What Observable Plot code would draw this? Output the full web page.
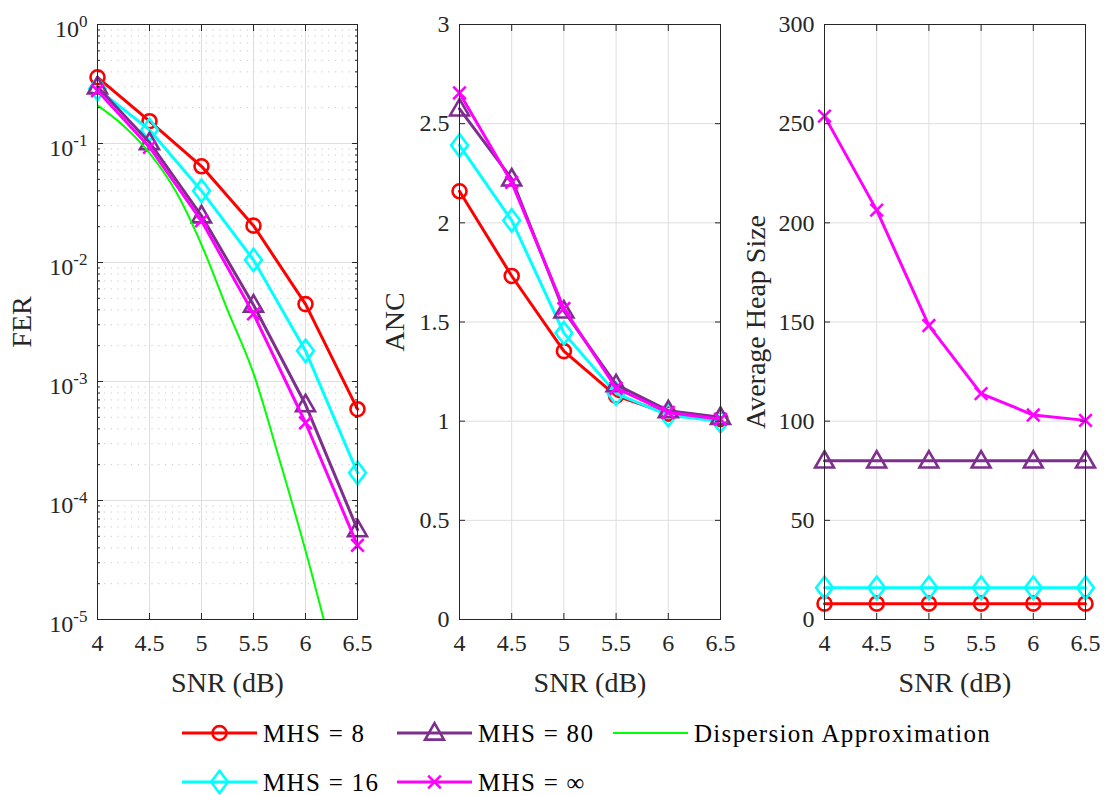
<!DOCTYPE html>
<html><head><meta charset="utf-8">
<script src="https://cdn.jsdelivr.net/npm/d3@7"></script>
<script src="https://cdn.jsdelivr.net/npm/@observablehq/plot@0.6"></script>
<style>
html,body{margin:0;padding:0;background:#fff;}
body{width:1107px;height:796px;position:relative;overflow:hidden;}
.panel{position:absolute;top:0;}
#legend{position:absolute;left:0;top:700px;}
svg text{font-family:"Liberation Serif","Times New Roman",Tinos,"DejaVu Serif",serif !important;font-variant:normal !important;}
g[aria-label="x-axis label"] text, g[aria-label="y-axis label"] text{font-size:28px;}
</style></head><body>
<div id="p1" class="panel" style="left:0px"></div>
<div id="p2" class="panel" style="left:370px"></div>
<div id="p3" class="panel" style="left:740px"></div>
<div id="legend"></div>
<script>
// ---------------- data ----------------
const snr = [4, 4.5, 5, 5.5, 6, 6.5];
const xTicks = [4, 4.5, 5, 5.5, 6, 6.5];
const xTickLabels = ["4", "4.5", "5", "5.5", "6", "6.5"];

const seriesNames = ["MHS = 8", "MHS = 16", "MHS = 80", "MHS = \u221E"];
const seriesColors = ["#ff0000", "#00ffff", "#7e2f8e", "#ff00ff"];
const seriesMarkers = ["circle", "diamond", "triangle", "cross"];

const ferMHS8   = [0.36, 0.154, 0.0643, 0.0204, 0.00447, 0.000585];
const ferMHS16  = [0.288, 0.13, 0.040, 0.0105, 0.00181, 0.000171];
const ferMHS80  = [0.30, 0.102, 0.0247, 0.0044, 0.00064, 0.000057];
const ferMHSinf = [0.278, 0.093, 0.0224, 0.0037, 0.00045, 0.000042];

const dispName = "Dispersion Approximation";
const dispColor = "#00ff00";
const dispSNR = [4, 4.25, 4.5, 4.75, 5, 5.25, 5.5, 5.75, 6, 6.25];
const dispFER = [0.209, 0.141, 0.083, 0.040, 0.0141, 0.0040, 0.00117, 0.00022, 0.000038, 0.0000056];

const ancMHS8   = [2.159, 1.732, 1.353, 1.128, 1.038, 1.01];
const ancMHS16  = [2.391, 2.012, 1.444, 1.139, 1.03, 1.0];
const ancMHS80  = [2.575, 2.222, 1.556, 1.184, 1.053, 1.02];
const ancMHSinf = [2.655, 2.204, 1.568, 1.166, 1.044, 1.01];

const heapMHS8   = [8, 8, 8, 8, 8, 8];
const heapMHS16  = [16, 16, 16, 16, 16, 16];
const heapMHS80  = [80, 80, 80, 80, 80, 80];
const heapMHSinf = [253.8, 206.4, 148.2, 113.9, 103.1, 100.4];

const ferTicks = [1e-5, 1e-4, 1e-3, 1e-2, 1e-1, 1];
const ferTickLabels = ["10^-5", "10^-4", "10^-3", "10^-2", "10^-1", "10^0"];
const ancTicks = [0, 0.5, 1, 1.5, 2, 2.5, 3];
const ancTickLabels = ["0", "0.5", "1", "1.5", "2", "2.5", "3"];
const heapTicks = [0, 50, 100, 150, 200, 250, 300];
const heapTickLabels = ["0", "50", "100", "150", "200", "250", "300"];

// ---------------- symbols ----------------
function sym(fn) { return {draw(ctx, size) { fn(ctx, Math.sqrt(size / Math.PI)); }}; }
const symbols = {
  circle: sym((c, r) => { c.moveTo(r, 0); c.arc(0, 0, r, 0, 2 * Math.PI); c.closePath(); }),
  triangle: sym((c, r) => { c.moveTo(0, -1.4 * r); c.lineTo(1.35 * r, 0.95 * r); c.lineTo(-1.35 * r, 0.95 * r); c.closePath(); }),
  diamond: sym((c, r) => { c.moveTo(0, -1.6 * r); c.lineTo(1.2 * r, 0); c.lineTo(0, 1.6 * r); c.lineTo(-1.2 * r, 0); c.closePath(); }),
  cross: sym((c, r) => { const a = 0.9 * r; c.moveTo(-a, -a); c.lineTo(a, a); c.moveTo(a, -a); c.lineTo(-a, a); })
};
const MR = 7;
const FONT = "'Liberation Serif', 'Times New Roman', Tinos, 'DejaVu Serif', serif";

function rows(xs, ys) { return xs.map((x, i) => ({x, y: ys[i]})); }
const fmt = (ticks, labels) => d => labels[ticks.indexOf(d)];

const GRID = "#dedede", AX = "#262626";

function panel({el, width, marginLeft, marginRight, y, yTicks, yTickLabels, minor, yLabel, yLabelOffset, yTextDy, sets, before = [], after = []}) {
  const marks = [];
  if (minor) marks.push(Plot.ruleY(minor, {stroke: "#c6c6c6", strokeDasharray: "1.2,5.6", strokeWidth: 1}));
  marks.push(Plot.gridX(xTicks, {stroke: GRID, strokeOpacity: 1, strokeWidth: 1}));
  marks.push(Plot.gridY(yTicks, {stroke: GRID, strokeOpacity: 1, strokeWidth: 1}));
  marks.push(...before);
  sets.forEach((vals, i) => {
    const d = rows(snr, vals);
    marks.push(Plot.line(d, {x: "x", y: "y", stroke: seriesColors[i], strokeWidth: 3}));
    marks.push(Plot.dot(d, {x: "x", y: "y", stroke: seriesColors[i], fill: "none", strokeWidth: 2.6, r: MR, symbol: symbols[seriesMarkers[i]]}));
  });
  marks.push(...after);
  marks.push(Plot.frame({stroke: AX, strokeWidth: 1}));
  marks.push(Plot.axisX(xTicks, {anchor: "bottom", tickSize: 0, tickPadding: 14, fontVariant: "normal", tickFormat: fmt(xTicks, xTickLabels), label: "SNR (dB)", labelAnchor: "center", labelOffset: 72, labelArrow: "none"}));
  marks.push(Plot.axisY(yTicks, {anchor: "left", tickSize: 0, tickPadding: 10, dy: yTextDy, fontVariant: "normal", tickFormat: fmt(yTicks, yTickLabels), label: yLabel, labelAnchor: "center", labelOffset: yLabelOffset, labelArrow: "none"}));
  const blank = () => "";
  marks.push(Plot.axisX(xTicks, {anchor: "bottom", tickSize: -6, tickFormat: blank, label: null, stroke: AX}));
  marks.push(Plot.axisX(xTicks, {anchor: "top", tickSize: -6, tickFormat: blank, label: null, stroke: AX}));
  marks.push(Plot.axisY(yTicks, {anchor: "left", tickSize: -6, tickFormat: blank, label: null, stroke: AX}));
  marks.push(Plot.axisY(yTicks, {anchor: "right", tickSize: -6, tickFormat: blank, label: null, stroke: AX}));
  if (minor) {
    marks.push(Plot.axisY(minor, {anchor: "left", tickSize: -3, tickFormat: blank, label: null, stroke: AX}));
    marks.push(Plot.axisY(minor, {anchor: "right", tickSize: -3, tickFormat: blank, label: null, stroke: AX}));
  }
  const svg = Plot.plot({
    width, height: 700, marginTop: 24, marginBottom: 81, marginLeft, marginRight,
    x: {domain: [4, 6.5]},
    y,
    style: {fontFamily: FONT, fontSize: "24px", color: AX, background: "transparent", overflow: "visible"},
    marks
  });
  document.getElementById(el).appendChild(svg);
  return svg;
}

// FER
const ferMinor = ferTicks.slice(0, -1).flatMap(d => [2, 3, 4, 5, 6, 7, 8, 9].map(m => d * m));
const svg1 = panel({
  el: "p1", width: 370, marginLeft: 97, marginRight: 13,
  y: {type: "log", domain: [1e-5, 1]},
  yTicks: ferTicks, yTickLabels: ferTickLabels, minor: ferMinor,
  yLabel: "FER", yLabelOffset: 86, yTextDy: 5,
  sets: [ferMHS8, ferMHS16, ferMHS80, ferMHSinf],
  after: [Plot.line(rows(dispSNR, dispFER), {x: "x", y: "y", stroke: dispColor, strokeWidth: 2, curve: "monotone-x", clip: true})]
});
d3.select(svg1).selectAll('g[aria-label="y-axis tick label"] text').each(function() {
  const t = this.textContent;
  const parts = t.split("^");
  if (parts.length < 2) return;
  const s = d3.select(this);
  s.selectAll("*").remove();
  s.text(null);
  s.append("tspan").text(parts[0]);
  s.append("tspan").attr("dy", "-10").attr("font-size", "17px").text(parts[1]);
});

// ANC
panel({
  el: "p2", width: 370, marginLeft: 89, marginRight: 20,
  y: {domain: [0, 3]},
  yTicks: ancTicks, yTickLabels: ancTickLabels,
  yLabel: "ANC", yLabelOffset: 75, yTextDy: 0,
  sets: [ancMHS8, ancMHS16, ancMHS80, ancMHSinf]
});

// Heap
panel({
  el: "p3", width: 367, marginLeft: 84, marginRight: 22,
  y: {domain: [0, 300]},
  yTicks: heapTicks, yTickLabels: heapTickLabels,
  yLabel: "Average Heap Size", yLabelOffset: 79, yTextDy: 0,
  sets: [heapMHS8, heapMHS16, heapMHS80, heapMHSinf]
});

// ---------------- legend ----------------
const legendItems = [
  {name: seriesNames[0], color: seriesColors[0], marker: seriesMarkers[0], col: 0, row: 0, w: 3},
  {name: seriesNames[2], color: seriesColors[2], marker: seriesMarkers[2], col: 1, row: 0, w: 3},
  {name: dispName, color: dispColor, marker: null, col: 2, row: 0, w: 2},
  {name: seriesNames[1], color: seriesColors[1], marker: seriesMarkers[1], col: 0, row: 1, w: 3},
  {name: seriesNames[3], color: seriesColors[3], marker: seriesMarkers[3], col: 1, row: 1, w: 3}
];
const colX = [182, 397, 613];
const rowY = [33, 82];
const lg = d3.select("#legend").append("svg").attr("width", 1107).attr("height", 96);
legendItems.forEach(it => {
  const x0 = colX[it.col], y0 = rowY[it.row];
  const g = lg.append("g");
  g.append("line").attr("x1", x0).attr("x2", x0 + 75).attr("y1", y0).attr("y2", y0)
    .attr("stroke", it.color).attr("stroke-width", it.w);
  if (it.marker) {
    const p = d3.path();
    symbols[it.marker].draw(p, Math.PI * MR * MR);
    g.append("path").attr("d", p.toString()).attr("transform", `translate(${x0 + 37.5},${y0})`)
      .attr("fill", "none").attr("stroke", it.color).attr("stroke-width", 2.6);
  }
  g.append("text").attr("x", x0 + 81).attr("y", y0).attr("dy", "0.34em")
    .attr("font-family", FONT).attr("font-size", 25)
    .attr("letter-spacing", "1.3px").attr("fill", "#000").text(it.name);
});
</script>
</body></html>
